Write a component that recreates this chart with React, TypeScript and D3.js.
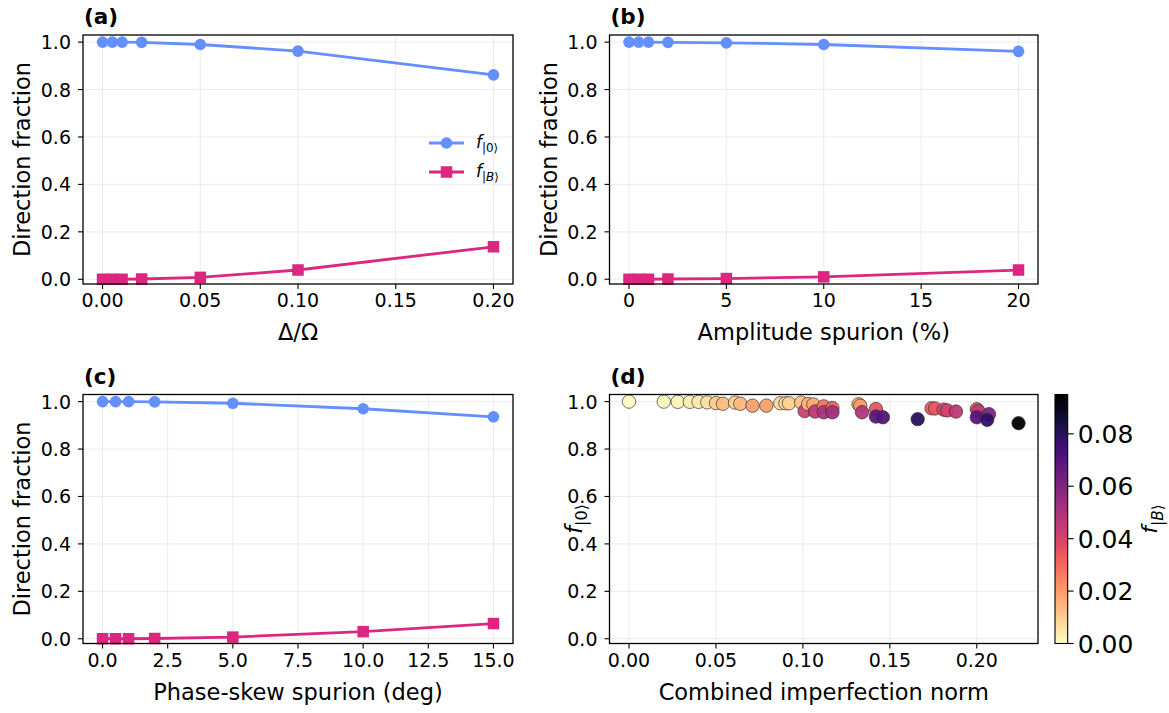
import React from 'react';
import * as d3 from 'd3';

// ---------- data ----------
const deltaOmega = [0, 0.005, 0.01, 0.02, 0.05, 0.1, 0.2];
const fZeroA = [1.0, 1.0, 1.0, 0.999, 0.99, 0.962, 0.862];
const fBA = [0.0, 0.0, 0.0, 0.001, 0.008, 0.039, 0.137];

const amplitudeSpurion = [0, 0.5, 1, 2, 5, 10, 20];
const fZeroB = [1.0, 1.0, 1.0, 0.999, 0.997, 0.99, 0.961];
const fBB = [0.0, 0.0, 0.0, 0.001, 0.003, 0.01, 0.039];

const phaseSkew = [0, 0.5, 1, 2, 5, 10, 15];
const fZeroC = [1.0, 1.0, 1.0, 0.999, 0.993, 0.97, 0.936];
const fBC = [0.0, 0.0, 0.0, 0.001, 0.007, 0.03, 0.064];

const combinedNorm = [
  0.0, 0.02, 0.028, 0.035, 0.04, 0.045, 0.05, 0.054, 0.061, 0.064,
  0.071, 0.079, 0.087, 0.09, 0.092, 0.099, 0.101, 0.103, 0.106, 0.107,
  0.112, 0.112, 0.117, 0.117, 0.132, 0.133, 0.134, 0.142, 0.142, 0.146,
  0.166, 0.174, 0.176, 0.181, 0.183, 0.188, 0.2, 0.201, 0.2, 0.207,
  0.206, 0.224,
];
const fZeroD = [
  1.0, 1.0, 0.999, 0.999, 0.999, 0.997, 0.994, 0.991, 0.996, 0.991,
  0.983, 0.983, 0.993, 0.993, 0.993, 0.996, 0.96, 0.99, 0.988, 0.958,
  0.98, 0.955, 0.973, 0.955, 0.989, 0.983, 0.955, 0.969, 0.937, 0.934,
  0.926, 0.972, 0.971, 0.966, 0.963, 0.958, 0.968, 0.96, 0.934, 0.947,
  0.923, 0.909,
];
const fBD = [
  0.0, 0.001, 0.002, 0.003, 0.004, 0.006, 0.01, 0.013, 0.01, 0.014,
  0.019, 0.019, 0.008, 0.008, 0.009, 0.012, 0.042, 0.015, 0.017, 0.045,
  0.028, 0.05, 0.032, 0.052, 0.016, 0.02, 0.048, 0.035, 0.068, 0.07,
  0.08, 0.033, 0.034, 0.039, 0.041, 0.046, 0.036, 0.045, 0.07, 0.06,
  0.078, 0.095,
];

const yTicks = [0, 0.2, 0.4, 0.6, 0.8, 1.0];
const xTicksA = [0, 0.05, 0.1, 0.15, 0.2];
const xTicksB = [0, 5, 10, 15, 20];
const xTicksC = [0, 2.5, 5, 7.5, 10, 12.5, 15];
const xTicksD = [0, 0.05, 0.1, 0.15, 0.2];
const cbTicks = [0, 0.02, 0.04, 0.06, 0.08];

// ---------- style ----------
const FONT = "'DejaVu Sans', sans-serif";
const BLUE = '#648FFF';
const PINK = '#DC267F';
const TICK_FS = 19;
const LABEL_FS = 22.5;
const Y_DOMAIN: [number, number] = [-0.02, 1.03];

type Box = { left: number; top: number; width: number; height: number };

function Ket({ sym, italicSym, fs, x, y, anchor, transform }: any) {
  return (
    <text x={x} y={y} fontFamily={FONT} fontSize={fs} textAnchor={anchor || 'start'} transform={transform}>
      <tspan fontStyle="italic">f</tspan>
      <tspan fontSize={fs * 0.7} dy={fs * 0.25}>
        {'|'}
        <tspan fontStyle={italicSym ? 'italic' : 'normal'}>{sym}</tspan>
        {'\u27E9'}
      </tspan>
    </text>
  );
}

function Frame({ box, x, y, xTicks, xFmt, xlabel, ylabel, panel, children }: any) {
  const { left, top, width, height } = box;
  const bottom = top + height;
  const right = left + width;
  return (
    <g>
      {xTicks.map((t: number, i: number) => (
        <line key={'gx' + i} x1={x(t)} x2={x(t)} y1={top} y2={bottom} stroke="#b0b0b0" strokeOpacity={0.3} strokeWidth={0.8} />
      ))}
      {yTicks.map((t: number, i: number) => (
        <line key={'gy' + i} x1={left} x2={right} y1={y(t)} y2={y(t)} stroke="#b0b0b0" strokeOpacity={0.3} strokeWidth={0.8} />
      ))}
      {children}
      <rect x={left} y={top} width={width} height={height} fill="none" stroke="#000" strokeWidth={1.3} />
      {xTicks.map((t: number, i: number) => (
        <g key={'xt' + i}>
          <line x1={x(t)} x2={x(t)} y1={bottom} y2={bottom + 5} stroke="#000" strokeWidth={1.1} />
          <text x={x(t)} y={bottom + 23} fontFamily={FONT} fontSize={TICK_FS} textAnchor="middle">{xFmt(t)}</text>
        </g>
      ))}
      {yTicks.map((t: number, i: number) => (
        <g key={'yt' + i}>
          <line x1={left - 5} x2={left} y1={y(t)} y2={y(t)} stroke="#000" strokeWidth={1.1} />
          <text x={left - 12} y={y(t) + 7} fontFamily={FONT} fontSize={TICK_FS} textAnchor="end">{d3.format('.1f')(t)}</text>
        </g>
      ))}
      <text x={left + width / 2} y={bottom + 56} fontFamily={FONT} fontSize={LABEL_FS} textAnchor="middle">{xlabel}</text>
      {ylabel}
      <text x={left + 1} y={top - 11} fontFamily={FONT} fontSize={21.5} fontWeight="bold">{panel}</text>
    </g>
  );
}

function LinePanel({ box, xs, f0, fB, xDomain, xTicks, xFmt, xlabel, panel, legend }: any) {
  const { left, top, width, height } = box;
  const x = d3.scaleLinear().domain(xDomain).range([left, left + width]);
  const y = d3.scaleLinear().domain(Y_DOMAIN).range([top + height, top]);
  const line = d3.line<number>().x((_, i) => x(xs[i])).y((d) => y(d));
  const ylabel = (
    <text transform={`translate(${left - 53},${top + height / 2}) rotate(-90)`} fontFamily={FONT} fontSize={LABEL_FS} textAnchor="middle">
      Direction fraction
    </text>
  );
  const sq = 11.5;
  return (
    <Frame box={box} x={x} y={y} xTicks={xTicks} xFmt={xFmt} xlabel={xlabel} ylabel={ylabel} panel={panel}>
      <path d={line(f0) || ''} fill="none" stroke={BLUE} strokeWidth={2.8} />
      {f0.map((v: number, i: number) => (
        <circle key={'c' + i} cx={x(xs[i])} cy={y(v)} r={5.8} fill={BLUE} />
      ))}
      <path d={line(fB) || ''} fill="none" stroke={PINK} strokeWidth={2.8} />
      {fB.map((v: number, i: number) => (
        <rect key={'s' + i} x={x(xs[i]) - sq / 2} y={y(v) - sq / 2} width={sq} height={sq} fill={PINK} />
      ))}
      {legend && (
        <g>
          <line x1={429} x2={464} y1={143} y2={143} stroke={BLUE} strokeWidth={2.8} />
          <circle cx={446.5} cy={143} r={5.8} fill={BLUE} />
          <Ket sym="0" fs={17} x={476} y={148} />
          <line x1={429} x2={464} y1={172} y2={172} stroke={PINK} strokeWidth={2.8} />
          <rect x={446.5 - sq / 2} y={172 - sq / 2} width={sq} height={sq} fill={PINK} />
          <Ket sym="B" italicSym fs={17} x={476} y={177} />
        </g>
      )}
    </Frame>
  );
}

function ScatterPanel({ box }: { box: Box }) {
  const { left, top, width, height } = box;
  const x = d3.scaleLinear().domain([-0.0112, 0.2352]).range([left, left + width]);
  const y = d3.scaleLinear().domain(Y_DOMAIN).range([top + height, top]);
  const vmax = 0.095;
  const color = (v: number) => d3.interpolateMagma(1 - Math.min(1, v / vmax));
  const ylabel = (
    <Ket sym="0" fs={23} x={0} y={0} anchor="middle" transform={`translate(${left - 28},${top + height / 2}) rotate(-90)`} />
  );
  const cbLeft = 1055;
  const cbW = 12.7;
  const cbScale = d3.scaleLinear().domain([0, vmax]).range([top + height, top]);
  const stops = d3.range(0, 1.0001, 0.05);
  return (
    <g>
      <Frame box={box} x={x} y={y} xTicks={xTicksD} xFmt={d3.format('.2f')} xlabel="Combined imperfection norm" ylabel={ylabel} panel="(d)">
        {combinedNorm.map((n, i) => (
          <circle key={i} cx={x(n)} cy={y(fZeroD[i])} r={6.7} fill={color(fBD[i])} stroke="#333" strokeWidth={0.7} fillOpacity={0.95} />
        ))}
      </Frame>
      <defs>
        <linearGradient id="magmaR" x1="0" y1="1" x2="0" y2="0">
          {stops.map((s, i) => (
            <stop key={i} offset={s} stopColor={d3.interpolateMagma(1 - s)} />
          ))}
        </linearGradient>
      </defs>
      <rect x={cbLeft} y={top} width={cbW} height={height} fill="url(#magmaR)" stroke="#000" strokeWidth={1.1} />
      {cbTicks.map((t, i) => (
        <g key={i}>
          <line x1={cbLeft + cbW} x2={cbLeft + cbW + 6} y1={cbScale(t)} y2={cbScale(t)} stroke="#000" strokeWidth={1.1} />
          <text x={cbLeft + cbW + 10} y={cbScale(t) + 9} fontFamily={FONT} fontSize={25}>{d3.format('.2f')(t)}</text>
        </g>
      ))}
      <Ket sym="B" italicSym fs={22} x={0} y={0} anchor="middle" transform={`translate(1157,${top + height / 2}) rotate(-90)`} />
    </g>
  );
}

export default function App() {
  const boxA: Box = { left: 83, top: 35, width: 430, height: 249 };
  const boxB: Box = { left: 609.5, top: 35, width: 428.5, height: 249 };
  const boxC: Box = { left: 83, top: 394.5, width: 430, height: 249 };
  const boxD: Box = { left: 609.5, top: 394.5, width: 428.5, height: 249 };
  return (
    <svg width={1169} height={713} style={{ position: 'absolute', left: 0, top: 0, background: '#fff' }}>
      <rect x={0} y={0} width={1169} height={713} fill="#fff" />
      <LinePanel box={boxA} xs={deltaOmega} f0={fZeroA} fB={fBA} xDomain={[-0.01, 0.21]} xTicks={xTicksA} xFmt={d3.format('.2f')} xlabel="Δ/Ω" panel="(a)" legend />
      <LinePanel box={boxB} xs={amplitudeSpurion} f0={fZeroB} fB={fBB} xDomain={[-1, 21]} xTicks={xTicksB} xFmt={d3.format('d')} xlabel="Amplitude spurion (%)" panel="(b)" />
      <LinePanel box={boxC} xs={phaseSkew} f0={fZeroC} fB={fBC} xDomain={[-0.75, 15.75]} xTicks={xTicksC} xFmt={d3.format('.1f')} xlabel="Phase-skew spurion (deg)" panel="(c)" />
      <ScatterPanel box={boxD} />
    </svg>
  );
}
